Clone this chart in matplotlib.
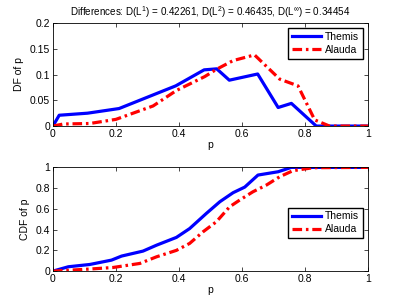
import matplotlib
matplotlib.use("Agg")
import matplotlib.pyplot as plt

# DF of p
df_themis_x = [0.0, 0.02, 0.11, 0.21, 0.30, 0.39, 0.48, 0.52, 0.56, 0.65, 0.715, 0.757, 0.836, 1.0]
df_themis_y = [0.0, 0.021, 0.025, 0.034, 0.056, 0.078, 0.109, 0.111, 0.089, 0.101, 0.036, 0.044, 0.0, 0.0]
df_alauda_x = [0.0, 0.033, 0.117, 0.20, 0.318, 0.392, 0.482, 0.519, 0.572, 0.64, 0.72, 0.778, 0.831, 0.878, 1.0]
df_alauda_y = [0.0, 0.004, 0.005, 0.013, 0.039, 0.069, 0.096, 0.110, 0.127, 0.138, 0.091, 0.078, 0.012, 0.0, 0.0]

# CDF of p
cdf_themis_x = [0.0, 0.049, 0.117, 0.186, 0.218, 0.286, 0.329, 0.392, 0.434, 0.487, 0.53, 0.572, 0.609, 0.651, 0.715, 0.757, 1.0]
cdf_themis_y = [0.0, 0.042, 0.064, 0.106, 0.145, 0.193, 0.25, 0.325, 0.41, 0.556, 0.669, 0.756, 0.81, 0.926, 0.958, 1.0, 1.0]
cdf_alauda_x = [0.0, 0.059, 0.117, 0.191, 0.276, 0.329, 0.392, 0.434, 0.477, 0.519, 0.561, 0.593, 0.635, 0.678, 0.72, 0.762, 0.826, 1.0]
cdf_alauda_y = [0.0, 0.01, 0.02, 0.035, 0.074, 0.138, 0.2, 0.267, 0.38, 0.476, 0.62, 0.685, 0.765, 0.83, 0.91, 0.968, 0.997, 1.0]

title = r"Differences: D(L$^1$) = 0.42261, D(L$^2$) = 0.46435, D(L$^{\infty}$) = 0.34454"

plt.rcParams['font.family'] = ['Liberation Sans', 'DejaVu Sans']
plt.rcParams['mathtext.fontset'] = 'custom'
plt.rcParams['mathtext.rm'] = 'Liberation Sans'
plt.rcParams['font.size'] = 7.5

fig = plt.figure(figsize=(4.07, 3.06), dpi=100)
ax1 = fig.add_axes([0.130, 0.588, 0.774, 0.337])
ax2 = fig.add_axes([0.130, 0.114, 0.774, 0.339])

dashdot = (3, 1.2, 0.8, 1.2)

ax1.plot(df_themis_x, df_themis_y, color='#0000ff', lw=2.3, label='Themis')
ax1.plot(df_alauda_x, df_alauda_y, color='#ff0000', lw=2.3, ls=(0, dashdot), label='Alauda')
ax1.set_xlim(0, 1)
ax1.set_ylim(0, 0.2)
ax1.set_yticks([0, 0.05, 0.1, 0.15, 0.2])
ax1.set_yticklabels(['0', '0.05', '0.1', '0.15', '0.2'])
ax1.set_ylabel('DF of p')
ax1.set_xlabel('p', labelpad=1)
ax1.set_title(title, fontsize=7.1, pad=5)
ax1.legend(loc='upper right', fancybox=False, edgecolor='black', framealpha=1,
           handlelength=2.8, handletextpad=0.4, borderpad=0.35, labelspacing=0.3,
           borderaxespad=0.5, fontsize=7.5)

ax2.plot(cdf_themis_x, cdf_themis_y, color='#0000ff', lw=2.3, label='Themis')
ax2.plot(cdf_alauda_x, cdf_alauda_y, color='#ff0000', lw=2.3, ls=(0, dashdot), label='Alauda')
ax2.set_xlim(0, 1)
ax2.set_ylim(0, 1)
ax2.set_yticks([0, 0.2, 0.4, 0.6, 0.8, 1])
ax2.set_yticklabels(['0', '0.2', '0.4', '0.6', '0.8', '1'])
ax2.set_ylabel('CDF of p')
ax2.set_xlabel('p', labelpad=1)
ax2.legend(loc='center right', bbox_to_anchor=(1.0, 0.466), fancybox=False, edgecolor='black',
           framealpha=1, handlelength=2.8, handletextpad=0.4, borderpad=0.35, labelspacing=0.3,
           borderaxespad=0.5, fontsize=7.5)

for ax in (ax1, ax2):
    ax.set_xticks([0, 0.2, 0.4, 0.6, 0.8, 1])
    ax.set_xticklabels(['0', '0.2', '0.4', '0.6', '0.8', '1'])
    ax.tick_params(direction='in', top=True, right=True, length=3, width=0.5, pad=2)
    for s in ax.spines.values():
        s.set_linewidth(0.6)

fig.savefig('out.png', dpi=100)
